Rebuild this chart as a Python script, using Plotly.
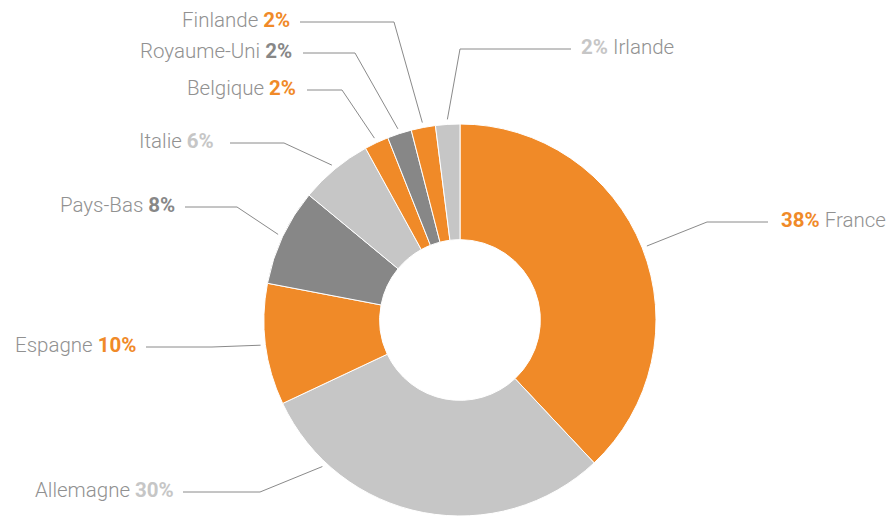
import plotly.graph_objects as go
import math

# ---- data ----
countries = ["France", "Allemagne", "Espagne", "Pays-Bas", "Italie",
             "Belgique", "Royaume-Uni", "Finlande", "Irlande"]
shares = [38, 30, 10, 8, 6, 2, 2, 2, 2]
slice_colors = ["#F08A28", "#C6C6C6", "#F08A28", "#878787", "#C6C6C6",
                "#F08A28", "#878787", "#F08A28", "#C6C6C6"]

# ---- layout (pixels) ----
W, H = 892, 516
CX, CY, R = 460, 320, 196
HOLE = 0.41
TEXT_GRAY = "#919191"
LINE_GRAY = "#8A8A8A"

# label layout: anchor fraction along slice, elbow (px), line end (px), label x, side
label_layout = {
    "France":      dict(frac=0.5, elbow=(707, 222), end=(768, 222), lx=779, side="right"),
    "Allemagne":   dict(frac=0.8, elbow=(260, 492), end=(183, 492), lx=176, side="left"),
    "Espagne":     dict(frac=0.5, elbow=(212, 347), end=(146, 347), lx=138, side="left"),
    "Pays-Bas":    dict(frac=0.5, elbow=(237, 207), end=(185, 207), lx=177, side="left"),
    "Italie":      dict(frac=0.5, elbow=(284, 143), end=(230, 143), lx=216, side="left"),
    "Belgique":    dict(frac=0.5, elbow=(342, 90), end=(307, 90), lx=298, side="left"),
    "Royaume-Uni": dict(frac=0.5, elbow=(355, 53), end=(303, 53), lx=294, side="left"),
    "Finlande":    dict(frac=0.5, elbow=(394, 22), end=(300, 22), lx=292, side="left"),
    "Irlande":     dict(frac=0.5, elbow=(460, 49), end=(571, 49), lx=579, side="right"),
}
ANCHOR_R = 201


def px(x):
    return x / W


def py(y):
    return 1 - y / H


fig = go.Figure()
fig.add_trace(go.Pie(
    labels=countries, values=shares, sort=False, direction="clockwise",
    rotation=0, hole=HOLE, textinfo="none", hoverinfo="label+percent",
    marker=dict(colors=slice_colors, line=dict(color="white", width=1)),
    domain=dict(x=[px(CX - R), px(CX + R)], y=[py(CY + R), py(CY - R)]),
    showlegend=False,
))

total = sum(shares)
cum = 0
shapes = []
annotations = []
for name, val, col in zip(countries, shares, slice_colors):
    L = label_layout[name]
    ang = (cum + val * L["frac"]) / total * 2 * math.pi
    cum += val
    sx = CX + ANCHOR_R * math.sin(ang)
    sy = CY - ANCHOR_R * math.cos(ang)
    ex, ey = L["elbow"]
    tx, ty = L["end"]
    shapes.append(dict(type="line", xref="paper", yref="paper",
                       x0=px(sx), y0=py(sy), x1=px(ex), y1=py(ey),
                       line=dict(color=LINE_GRAY, width=1)))
    shapes.append(dict(type="line", xref="paper", yref="paper",
                       x0=px(ex), y0=py(ey), x1=px(tx), y1=py(ty),
                       line=dict(color=LINE_GRAY, width=1)))
    pct = f"<b><span style='color:{col}'>{val}%</span></b>"
    if L["side"] == "left":
        text = f"{name} {pct}"
        xa = "right"
    else:
        text = f"{pct} {name}"
        xa = "left"
    annotations.append(dict(xref="paper", yref="paper", x=px(L["lx"]), y=py(ty - 2),
                            text=text, showarrow=False, xanchor=xa, yanchor="middle",
                            font=dict(family="Roboto, Liberation Sans, sans-serif",
                                      size=20.5, color=TEXT_GRAY, weight=300)))

fig.update_layout(
    width=W, height=H, margin=dict(l=0, r=0, t=0, b=0),
    paper_bgcolor="white", plot_bgcolor="white",
    shapes=shapes, annotations=annotations,
)

fig.write_html("out.html", config={"displayModeBar": False},
               post_script="document.body.style.margin='0';document.body.style.padding='0';")
